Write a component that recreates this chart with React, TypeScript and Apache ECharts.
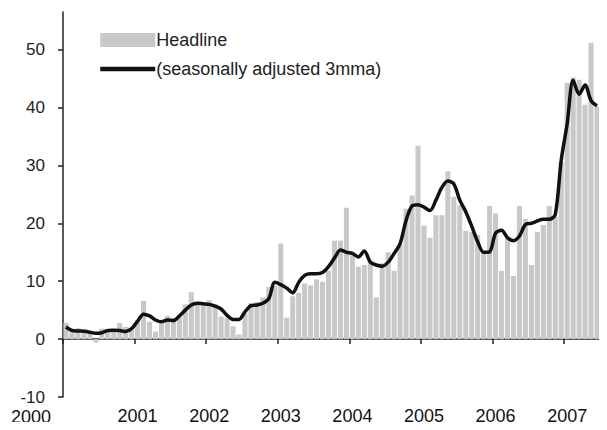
import React, { useEffect, useRef } from "react";
import * as echarts from "echarts";

const years = ["2000", "2001", "2002", "2003", "2004", "2005", "2006", "2007"];
const monthsPerYear = ["01", "02", "03", "04", "05", "06", "07", "08", "09", "10", "11", "12"];
const monthCount = 90; // Jan 2000 .. Jun 2007

const headline = [
  2.8, 1.5, 1.9, 1.7, 1.0, -0.6, 1.8, 1.5, 1.7, 2.8, 2.1, 1.5,
  3.3, 6.6, 3.0, 1.3, 2.7, 4.0, 3.6, 3.8, 6.0, 8.1, 6.2, 6.2,
  6.7, 6.0, 3.9, 3.7, 2.2, 0.8, 4.4, 6.2, 6.4, 7.2, 9.0, 9.2,
  16.5, 3.7, 7.4, 8.0, 9.6, 9.3, 10.3, 9.9, 11.8, 17.0, 17.0, 22.7,
  14.5, 12.5, 12.8, 13.5, 7.2, 13.1, 15.0, 11.8, 16.2, 22.5, 24.8, 33.4,
  19.6, 17.5, 21.4, 21.4, 29.0, 24.6, 23.1, 18.7, 18.5, 18.0, 15.0, 23.0,
  21.7, 11.8, 17.5, 10.9, 23.0, 20.8, 12.8, 18.5, 19.7, 23.0, 21.1, 30.6,
  44.3, 45.2, 44.8, 40.5, 51.2, 40.2,
];

const sa3mma = [
  2.1, 1.5, 1.4, 1.35, 1.2, 1.0, 1.1, 1.5, 1.55, 1.5, 1.3, 1.8,
  3.1, 4.3, 4.0, 3.3, 3.0, 3.3, 3.2, 4.0, 5.0, 5.9, 6.2, 6.1,
  6.0, 5.7, 5.2, 4.1, 3.4, 3.4, 4.7, 5.8, 5.9, 6.2, 7.0, 9.8,
  9.4, 8.8, 8.0, 9.8, 11.0, 11.3, 11.3, 11.5, 12.5, 14.0, 15.4, 15.0,
  14.8, 14.2, 15.2, 13.3, 12.8, 12.6, 13.3, 14.8, 16.5, 20.5, 23.0, 23.2,
  22.8, 22.2, 24.0, 26.2, 27.3, 26.8, 24.0, 22.0, 19.5, 16.8, 15.0, 15.1,
  18.3, 18.8, 17.5, 17.0, 17.8, 19.8, 20.0, 20.4, 20.7, 20.7, 21.5, 30.9,
  37.2, 44.7, 42.3, 43.9, 41.2, 40.3,
];

const yTicks = [-10, 0, 10, 20, 30, 40, 50];

const months: string[] = [];
years.forEach((y) => monthsPerYear.forEach((m) => months.push(`${y}-${m}`)));
const categories = months.slice(0, monthCount);

const FONT = "'Liberation Sans', Arial, Helvetica, sans-serif";

export default function App() {
  const ref = useRef<HTMLDivElement>(null);
  useEffect(() => {
    if (!ref.current) return;
    const chart = echarts.init(ref.current, undefined, { renderer: "svg" });
    chart.setOption({
      animation: false,
      backgroundColor: "#ffffff",
      textStyle: { fontFamily: FONT },
      grid: { left: 63, right: 7, top: 12, bottom: 33, containLabel: false },
      legend: {
        orient: "vertical",
        left: 98,
        top: 31,
        padding: 0,
        itemWidth: 55,
        itemHeight: 14,
        itemGap: 11,
        textStyle: { fontFamily: FONT, fontSize: 18, color: "#222", padding: [0, 0, 0, -4] },
        data: [
          { name: "Headline", icon: "rect" },
          {
            name: "(seasonally adjusted 3mma)",
            itemStyle: { opacity: 0 },
            lineStyle: { width: 4.5, color: "#111" },
          },
        ],
      },
      graphic: [
        {
          type: "text",
          left: 11,
          top: 408,
          silent: true,
          style: {
            text: years[0],
            fontSize: 18,
            lineHeight: 16,
            fontFamily: FONT,
            fill: "#111",
          },
        },
      ],
      xAxis: [
        {
          type: "category",
          data: categories,
          position: "top",
          boundaryGap: true,
          axisLine: { show: true, onZero: true, lineStyle: { color: "#222", width: 1.5 } },
          axisTick: {
            show: true,
            inside: true,
            length: 5,
            interval: (index: number) => index % 12 === 0,
            lineStyle: { color: "#222", width: 1.5 },
          },
          axisLabel: { show: false },
          splitLine: { show: false },
        },
        {
          type: "category",
          data: categories,
          position: "bottom",
          boundaryGap: true,
          axisLine: { show: false, onZero: false },
          axisTick: { show: false },
          axisLabel: {
            show: true,
            interval: (index: number) => index > 0 && index % 12 === 0,
            margin: 11,
            fontSize: 18,
            lineHeight: 16,
            color: "#111",
            fontFamily: FONT,
            formatter: (value: string) => value.slice(0, 4),
          },
          splitLine: { show: false },
        },
      ],
      yAxis: {
        type: "value",
        min: -10,
        max: 56.5,
        interval: 10,
        axisLine: { show: true, lineStyle: { color: "#222", width: 1.5 } },
        axisTick: { show: true, length: 5, customValues: yTicks, lineStyle: { color: "#222", width: 1.5 } },
        axisLabel: {
          customValues: yTicks,
          margin: 18,
          fontSize: 17,
          lineHeight: 14,
          color: "#222",
          fontFamily: FONT,
        },
        splitLine: { show: false },
      },
      series: [
        {
          name: "Headline",
          type: "bar",
          xAxisIndex: 0,
          data: headline,
          barCategoryGap: "15%",
          itemStyle: { color: "#c8c8c8" },
          z: 1,
        },
        {
          name: "(seasonally adjusted 3mma)",
          type: "line",
          xAxisIndex: 0,
          data: sa3mma,
          smooth: 0.3,
          symbol: "none",
          lineStyle: { color: "#111", width: 3.5 },
          itemStyle: { color: "#111" },
          z: 3,
        },
      ],
    });
    return () => chart.dispose();
  }, []);
  return <div ref={ref} style={{ width: 607, height: 430, margin: -8 }} />;
}
